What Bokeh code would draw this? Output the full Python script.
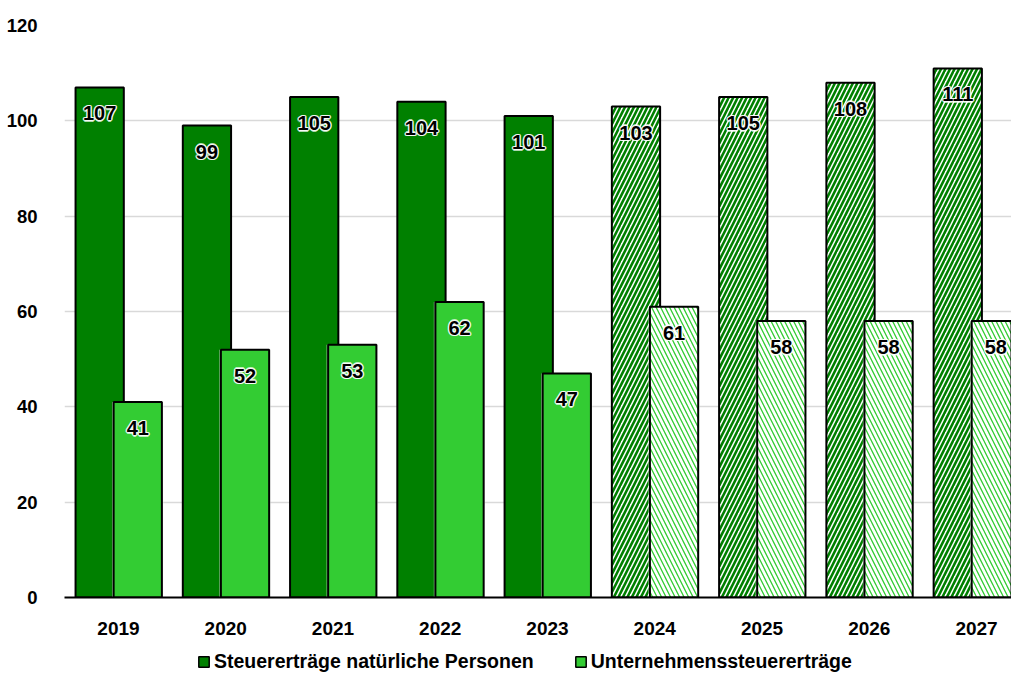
from bokeh.plotting import figure
from bokeh.layouts import column
from bokeh.models import ColumnDataSource, Range1d, FixedTicker, Legend, LegendItem
from bokeh.core.properties import value
from bokeh.embed import file_html
from bokeh.resources import INLINE

years = ["2019", "2020", "2021", "2022", "2023", "2024", "2025", "2026", "2027"]
persons = [107, 99, 105, 104, 101, 103, 105, 108, 111]
companies = [41, 52, 53, 62, 47, 61, 58, 58, 58]
forecast = [False, False, False, False, False, True, True, True, True]
yticks = [0, 20, 40, 60, 80, 100, 120]
series_names = ["Steuererträge natürliche Personen", "Unternehmenssteuererträge"]

FONT = "Liberation Sans"
DARK = "#008000"
LIGHT = "#33cc33"

xs = list(range(len(years)))
off_d, off_l, w = -0.175, 0.18, 0.45

def src(vals, off, flt):
    idx = [i for i in xs if forecast[i] == flt]
    return ColumnDataSource(dict(x=[i + off for i in idx], top=[vals[i] for i in idx],
                                 lab=[str(vals[i]) for i in idx]))

p = figure(width=1011, height=649, output_backend="svg", toolbar_location=None,
           x_range=Range1d(-0.503, 8.326), y_range=Range1d(0, 120),
           min_border_left=64, min_border_right=0, min_border_top=25, min_border_bottom=52)
p.outline_line_color = None
p.background_fill_color = "white"
p.border_fill_color = "white"

p.xgrid.visible = False
p.ygrid.grid_line_color = "#d9d9d9"
p.ygrid.grid_line_width = 1.5
p.yaxis.ticker = FixedTicker(ticks=yticks)
p.yaxis.axis_line_color = None
p.yaxis.major_tick_line_color = None
p.yaxis.minor_tick_line_color = None
p.yaxis.major_label_text_font = FONT
p.yaxis.major_label_text_font_style = "bold"
p.yaxis.major_label_text_font_size = "18.5px"
p.yaxis.major_label_text_color = "black"
p.yaxis.major_label_standoff = 21

p.xaxis.ticker = FixedTicker(ticks=xs)
p.xaxis.major_label_overrides = {i: y for i, y in zip(xs, years)}
p.xaxis.axis_line_color = "black"
p.xaxis.axis_line_width = 2
p.xaxis.major_tick_line_color = None
p.xaxis.minor_tick_line_color = None
p.xaxis.major_label_text_font = FONT
p.xaxis.major_label_text_font_style = "bold"
p.xaxis.major_label_text_font_size = "19px"
p.xaxis.major_label_text_color = "black"
p.xaxis.major_label_standoff = 18

# dark bars
s_d = src(persons, off_d, False)
s_dh = src(persons, off_d, True)
p.vbar(x="x", top="top", width=w, source=s_d, fill_color=DARK, line_color="black", line_width=2)
p.vbar(x="x", top="top", width=w, source=s_dh, fill_color="white", line_color="black", line_width=2,
       hatch_pattern="/", hatch_color=DARK, hatch_scale=9, hatch_weight=2.6)

# light bars with white glow
s_l = src(companies, off_l, False)
s_lh = src(companies, off_l, True)
for s in (s_l, s_lh):
    p.vbar(x="x", top="top", width=w + 0.03, source=s, fill_color="white", fill_alpha=0.55, line_color=None)
p.vbar(x="x", top="top", width=w, source=s_l, fill_color=LIGHT, line_color="black", line_width=2)
p.vbar(x="x", top="top", width=w, source=s_lh, fill_color="white", line_color="black", line_width=2,
       hatch_pattern="\\", hatch_color=LIGHT, hatch_scale=9, hatch_weight=1.3)

# value labels with white halo
offsets = [(-1.5, 0), (1.5, 0), (0, -1.5), (0, 1.5), (-1, -1), (1, 1), (-1, 1), (1, -1)]
for s in (s_d, s_dh, s_l, s_lh):
    for dx, dy in offsets:
        p.text(x="x", y="top", text="lab", source=s, x_offset=dx, y_offset=26 + dy,
               text_align="center", text_baseline="middle", text_color="white", text_alpha=0.7,
               text_font=value(FONT), text_font_style="bold", text_font_size="20px")
    p.text(x="x", y="top", text="lab", source=s, y_offset=26,
           text_align="center", text_baseline="middle", text_color="black",
           text_font=value(FONT), text_font_style="bold", text_font_size="20px")

# legend in a separate strip below the chart
lf = figure(width=1011, height=24, output_backend="svg", toolbar_location=None,
            x_range=Range1d(0, 1), y_range=Range1d(0, 1),
            x_axis_location=None, y_axis_location=None,
            min_border_left=0, min_border_right=0, min_border_top=0, min_border_bottom=0)
lf.grid.visible = False
lf.outline_line_color = None
r1 = lf.vbar(x=[0.5], top=[1], width=0.1, fill_color=DARK, line_color="black", line_width=1.5, visible=False)
r2 = lf.vbar(x=[0.5], top=[1], width=0.1, fill_color=LIGHT, line_color="black", line_width=1.5, visible=False)
legend = Legend(items=[LegendItem(label=series_names[0], renderers=[r1]),
                       LegendItem(label=series_names[1], renderers=[r2])],
                orientation="horizontal", location=(133, 0))
legend.border_line_color = None
legend.background_fill_alpha = 0
legend.inactive_fill_alpha = 0
legend.label_text_font = FONT
legend.label_text_font_style = "bold"
legend.label_text_font_size = "19.5px"
legend.label_text_color = "black"
legend.glyph_width = 13
legend.glyph_height = 13
legend.spacing = 40
legend.label_standoff = 4
legend.margin = 0
legend.padding = 0
lf.add_layout(legend, "center")

open("out.html", "w").write(file_html(column(p, lf, spacing=0), INLINE))
